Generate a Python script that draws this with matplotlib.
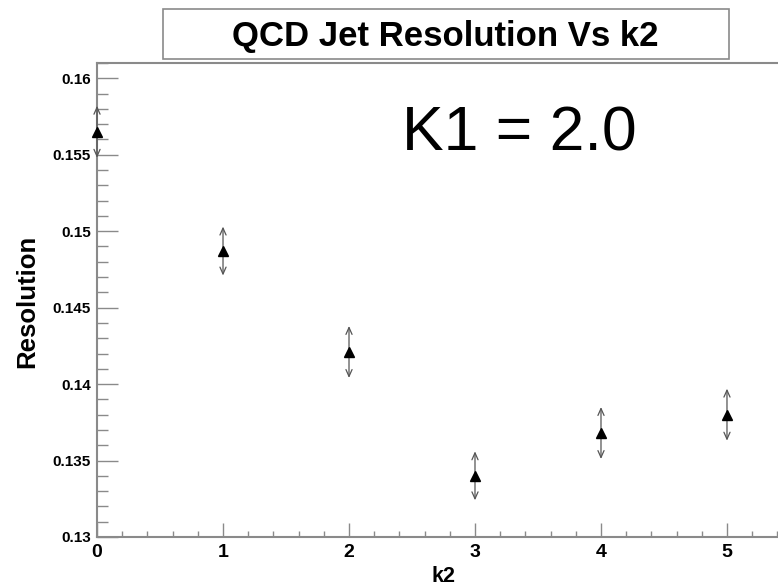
import matplotlib
matplotlib.use("Agg")
import matplotlib.pyplot as plt
from matplotlib.patches import Rectangle
from matplotlib.ticker import MultipleLocator
import numpy as np

plt.rcParams['font.family'] = ['Liberation Sans', 'DejaVu Sans']

k2 = [0, 1, 2, 3, 4, 5]
resolution = [0.1565, 0.1487, 0.1421, 0.1340, 0.1368, 0.1380]
res_err = [0.0017, 0.0016, 0.0017, 0.0016, 0.0017, 0.0017]
y_ticks = [0.13, 0.135, 0.14, 0.145, 0.15, 0.155, 0.16]
y_tick_labels = ["0.13", "0.135", "0.14", "0.145", "0.15", "0.155", "0.16"]

fig = plt.figure(figsize=(7.78, 5.87), dpi=100)
ax = fig.add_axes([0.1247, 0.0852, 0.8907, 0.8075])

axis_grey = "#8a8a8a"

# error bars drawn as double headed arrows (ROOT style)
for x, y, e in zip(k2, resolution, res_err):
    ax.annotate("", xy=(x, y + e), xytext=(x, y - e),
                arrowprops=dict(arrowstyle="<->,head_length=0.45,head_width=0.2",
                                lw=0.9, color="#555555",
                                shrinkA=0, shrinkB=0, mutation_scale=11))
ax.plot(k2, resolution, linestyle="none", marker="^", color="black",
        markersize=6.5, clip_on=False, zorder=5)

ax.set_xlim(0, 5.5)
ax.set_ylim(0.13, 0.161)
ax.set_xticks(k2)
ax.set_xticklabels([str(v) for v in k2], fontsize=14, fontweight="bold")
ax.xaxis.set_minor_locator(MultipleLocator(0.2))
ax.set_yticks(y_ticks)
ax.set_yticklabels(y_tick_labels, fontsize=11, fontweight="bold")
ax.yaxis.set_minor_locator(MultipleLocator(0.001))

ax.tick_params(axis="y", which="major", direction="in", length=15, width=1.0,
               color=axis_grey, pad=4.5)
ax.tick_params(axis="y", which="minor", direction="in", length=7.7, width=1.0,
               color=axis_grey)
ax.tick_params(axis="x", which="major", direction="in", length=10, width=1.0,
               color=axis_grey, pad=5)
ax.tick_params(axis="x", which="minor", direction="in", length=4.5, width=1.0,
               color=axis_grey)
for side in ax.spines:
    ax.spines[side].set_color(axis_grey)
    ax.spines[side].set_linewidth(1.5)

ax.set_ylabel("Resolution", fontsize=18.5, fontweight="bold", va="center")
ax.yaxis.set_label_coords(-0.101, 0.498)
ax.set_xlabel("k2", fontsize=15.5, fontweight="bold")
ax.xaxis.set_label_coords(0.5, -0.061)

ax.text(0.609, 0.850, "K1 = 2.0", transform=ax.transAxes, fontsize=45,
        ha="center", va="center")

# title box
fig.patches.append(Rectangle((163 / 778, 1 - 59.3 / 587), 566 / 778, 50 / 587,
                             transform=fig.transFigure, facecolor="white",
                             edgecolor=axis_grey, linewidth=1.2))
fig.text(0.5727, 0.937, "QCD Jet Resolution Vs k2", fontsize=25,
         fontweight="bold", ha="center", va="center")

fig.savefig("out.png", dpi=100)
